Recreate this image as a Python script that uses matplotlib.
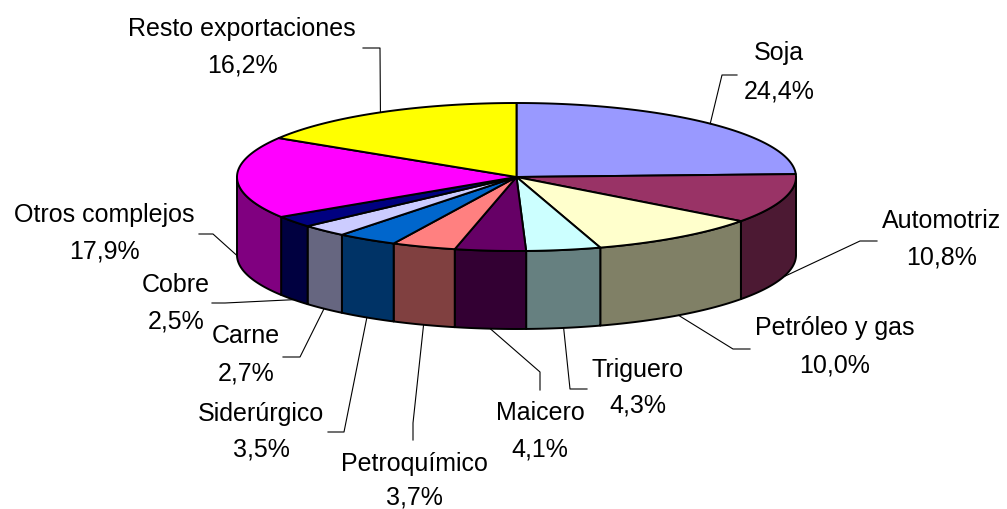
import numpy as np
import matplotlib
matplotlib.use('Agg')
import matplotlib.pyplot as plt
from matplotlib.patches import Polygon

# data
names = ['Soja', 'Automotriz', 'Petróleo y gas', 'Triguero', 'Maicero',
         'Petroquímico', 'Siderúrgico', 'Carne', 'Cobre', 'Otros complejos',
         'Resto exportaciones']
values = [24.4, 10.8, 10.0, 4.3, 4.1, 3.7, 3.5, 2.7, 2.5, 17.9, 16.2]

top_colors = ['#9999FF', '#993366', '#FFFFCC', '#CCFFFF', '#660066', '#FF8080',
              '#0066CC', '#CCCCFF', '#000080', '#FF00FF', '#FFFF00']
side_colors = ['#4C4C80', '#4C1933', '#808066', '#668080', '#330033', '#804040',
               '#003366', '#666680', '#000040', '#800080', '#808000']

# layout (pixel units): pie geometry and label placement
cx, cy, a, b, depth = 516.5, 177, 279.5, 74, 78
label_x = [779, 942, 835, 638, 540, 414, 261, 246, 176, 104, 242]
label_base = [60, 228, 335, 377, 420, 471, 421, 343, 292, 222, 36]
label_gap = [38, 37, 37, 36, 37, 34, 36, 37, 36, 36, 36]
elbow = [(722, 75), (860, 241), (733, 349), (570, 389), (540, 372), (413, 423),
         (344, 432), (300, 357), (225, 303), (213, 234), (380, 48)]
ends = [(737, 75), (877, 241), (750, 349), (587, 389), (540, 390), (413, 440),
        (328, 432), (283, 357), (212, 303), (199, 234), (363, 48)]

fig = plt.figure(figsize=(10.07, 5.09), dpi=100)
ax = fig.add_axes([0, 0, 1, 1])
ax.set_xlim(0, 1007)
ax.set_ylim(509, 0)
ax.axis('off')


def ell(theta):
    t = np.radians(theta)
    return cx + a * np.sin(t), cy - b * np.cos(t)


total = sum(values)
bounds = np.concatenate([[0], np.cumsum(values) / total * 360])

# side walls (front half only)
for i in range(len(values)):
    t0, t1 = max(bounds[i], 90), min(bounds[i + 1], 270)
    if t1 <= t0:
        continue
    th = np.linspace(t0, t1, 80)
    x, y = ell(th)
    pts = np.column_stack([np.concatenate([x, x[::-1]]),
                           np.concatenate([y, y[::-1] + depth])])
    ax.add_patch(Polygon(pts, closed=True, facecolor=side_colors[i],
                         edgecolor='black', lw=1.4, joinstyle='round'))

# top face
for i in range(len(values)):
    th = np.linspace(bounds[i], bounds[i + 1], 120)
    x, y = ell(th)
    pts = np.column_stack([np.concatenate([[cx], x]), np.concatenate([[cy], y])])
    ax.add_patch(Polygon(pts, closed=True, facecolor=top_colors[i],
                         edgecolor='black', lw=1.4, joinstyle='round'))

# labels with leader lines
for i, name in enumerate(names):
    mid = (bounds[i] + bounds[i + 1]) / 2
    px, py = ell(mid)
    if 90 <= mid <= 270:
        py += depth
    ex, ey = elbow[i]
    fx, fy = ends[i]
    ax.plot([px, ex, fx], [py, ey, fy], color='black', lw=0.8)
    pct = f'{values[i]:.1f}'.replace('.', ',') + '%'
    ax.text(label_x[i], label_base[i], name, ha='center', va='baseline',
            fontsize=18, family='Liberation Sans')
    ax.text(label_x[i], label_base[i] + label_gap[i], pct, ha='center',
            va='baseline', fontsize=18, family='Liberation Sans')

fig.savefig('out.png', dpi=100)
